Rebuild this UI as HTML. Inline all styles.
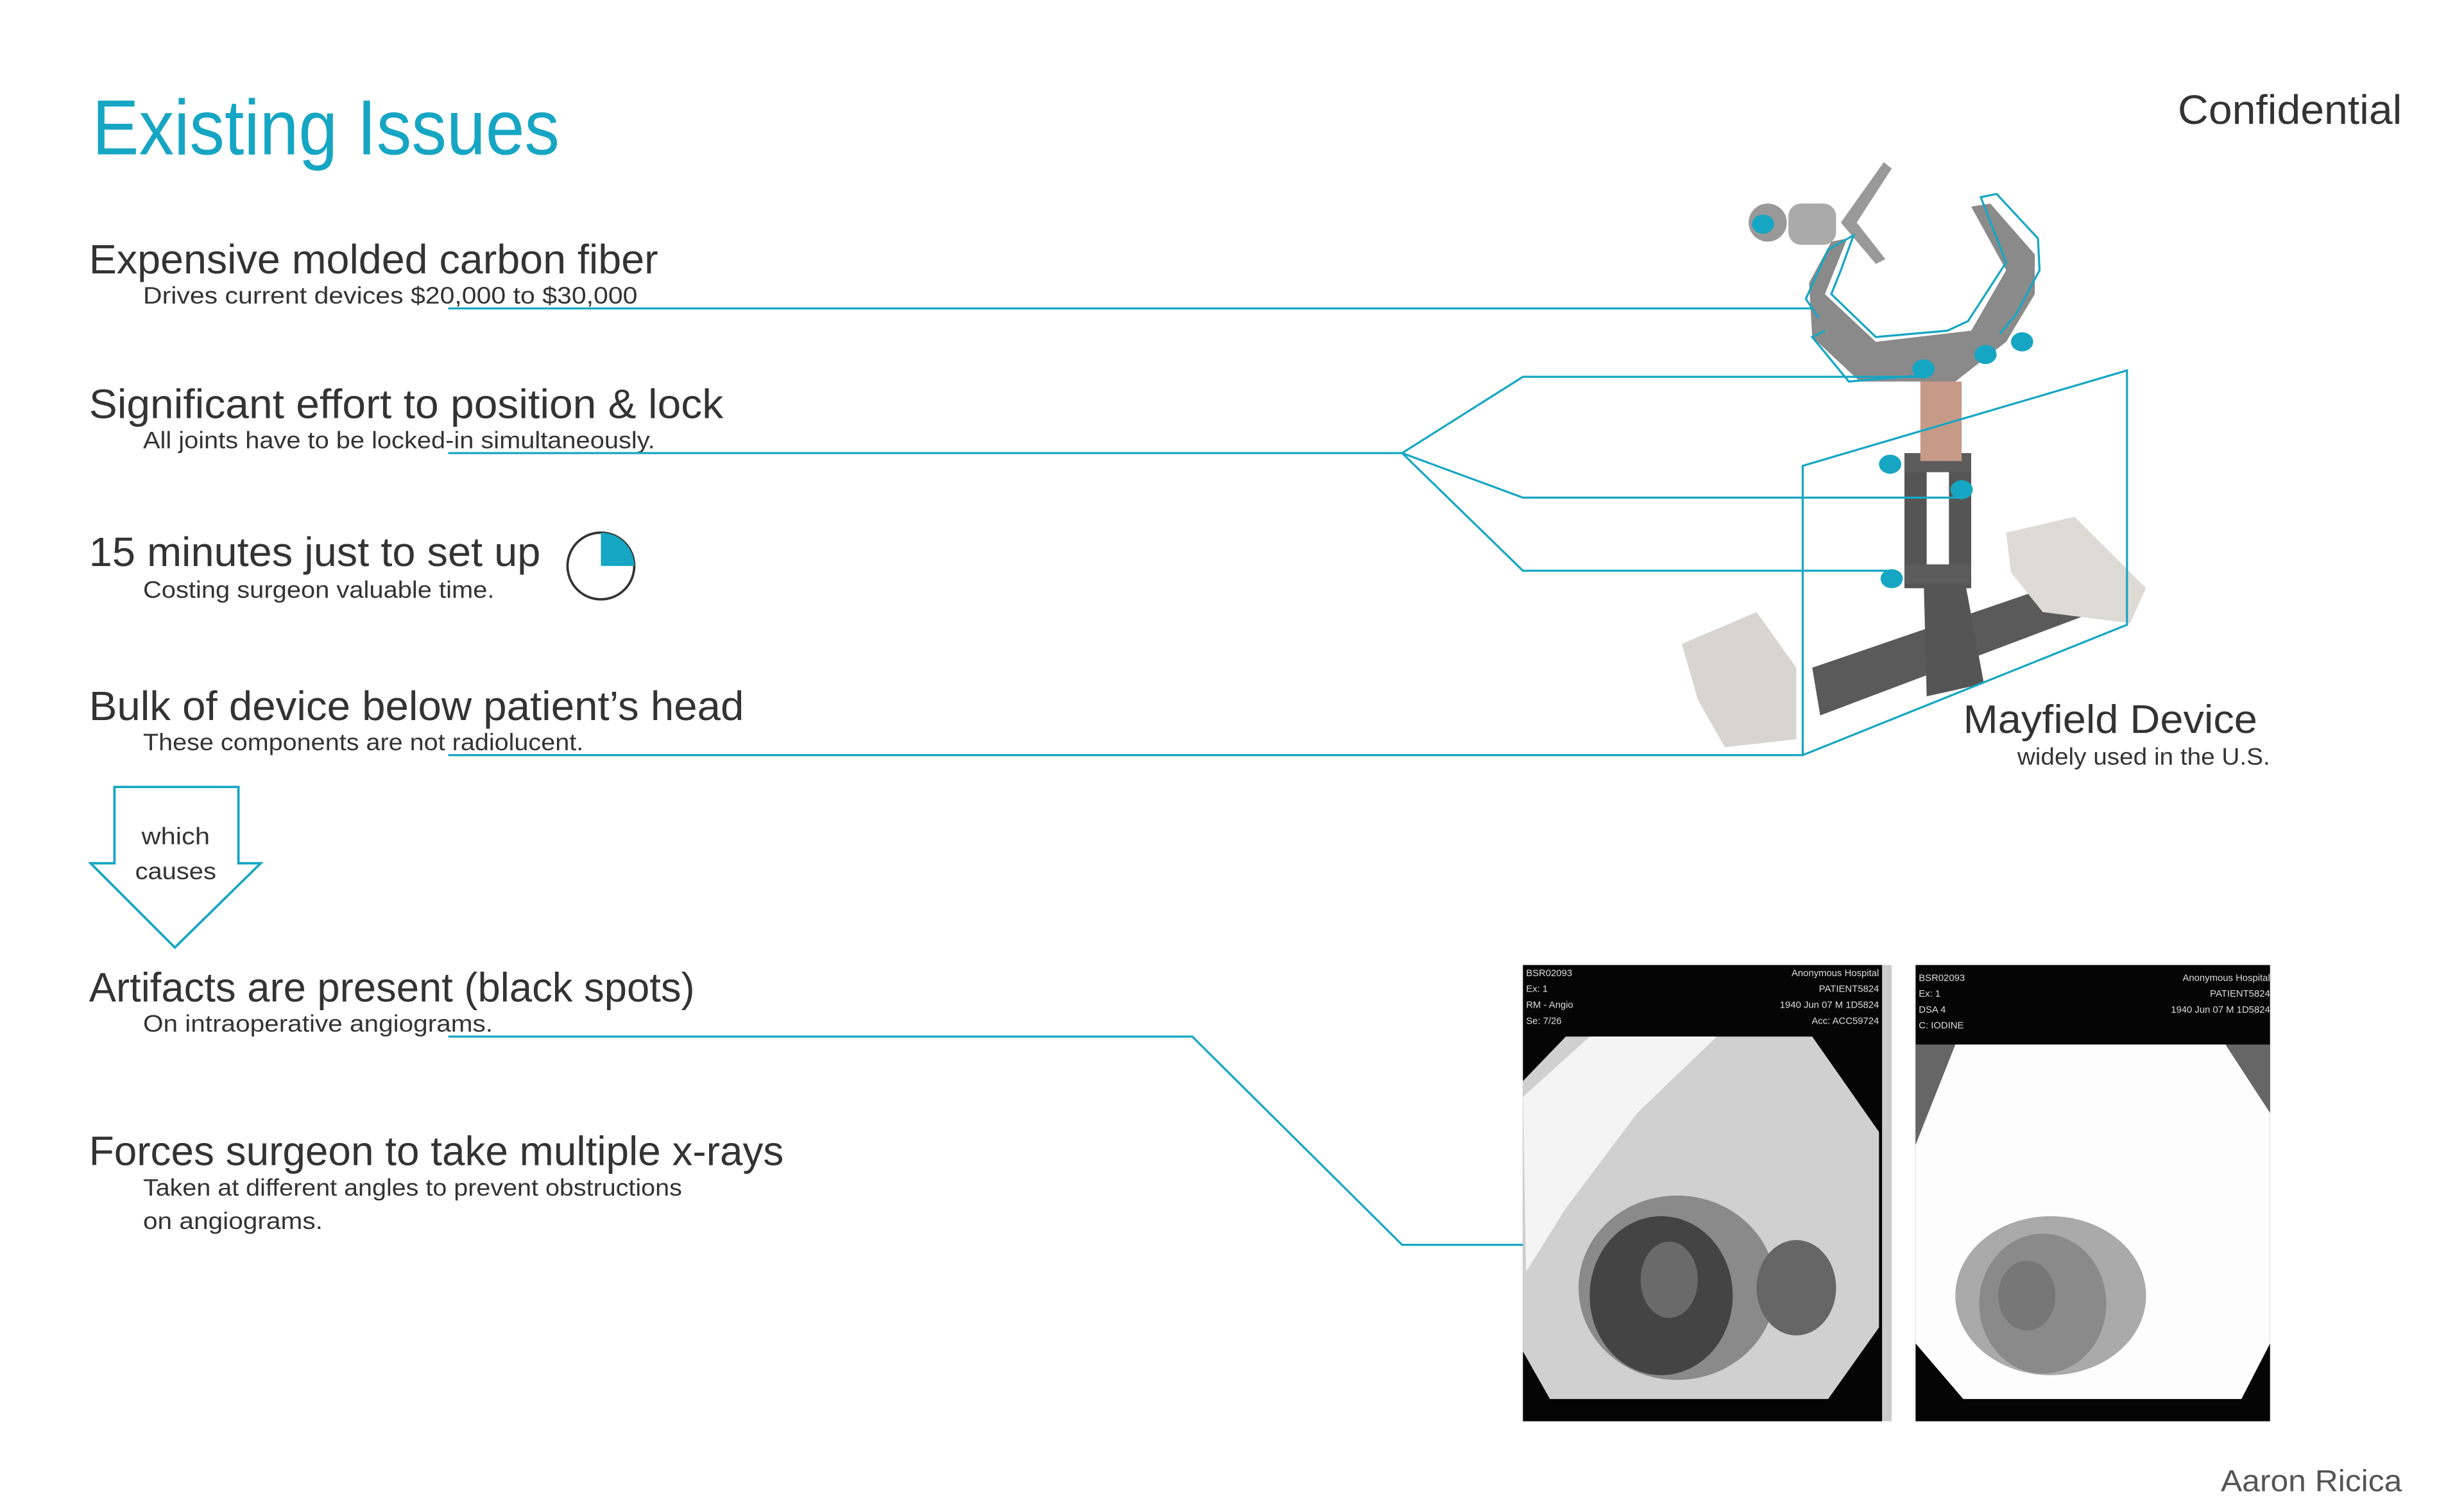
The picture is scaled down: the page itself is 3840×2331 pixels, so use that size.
<!DOCTYPE html>
<html><head><meta charset="utf-8"><style>
html,body{margin:0;padding:0;background:#fff;overflow:hidden}
svg{display:block}
text{font-family:"Liberation Sans",sans-serif;fill:#333}
.h{font-size:26px}
.s{font-size:15px;fill:#333}
.x{font-size:6px;fill:#ddd}
</style></head><body>
<svg width="3840" height="2331" viewBox="0 0 1550 941" preserveAspectRatio="none" xmlns="http://www.w3.org/2000/svg">
<rect width="1550" height="941" fill="#fff"/>
<text x="58" y="97" textLength="294" lengthAdjust="spacingAndGlyphs" style="font-size:49px;fill:#16a6c3">Existing Issues</text>
<text x="1370" y="78" textLength="141" lengthAdjust="spacingAndGlyphs" style="font-size:26px">Confidential</text>

<text class="h" x="56" y="172" textLength="358" lengthAdjust="spacingAndGlyphs">Expensive molded carbon fiber</text>
<text class="s" x="90" y="191" textLength="311" lengthAdjust="spacingAndGlyphs">Drives current devices $20,000 to $30,000</text>
<text class="h" x="56" y="263" textLength="399" lengthAdjust="spacingAndGlyphs">Significant effort to position &amp; lock</text>
<text class="s" x="90" y="282" textLength="322" lengthAdjust="spacingAndGlyphs">All joints have to be locked-in simultaneously.</text>
<text class="h" x="56" y="356" textLength="284" lengthAdjust="spacingAndGlyphs">15 minutes just to set up</text>
<text class="s" x="90" y="376" textLength="221" lengthAdjust="spacingAndGlyphs">Costing surgeon valuable time.</text>
<text class="h" x="56" y="453" textLength="412" lengthAdjust="spacingAndGlyphs">Bulk of device below patient’s head</text>
<text class="s" x="90" y="472" textLength="277" lengthAdjust="spacingAndGlyphs">These components are not radiolucent.</text>
<text class="h" x="56" y="630" textLength="381" lengthAdjust="spacingAndGlyphs">Artifacts are present (black spots)</text>
<text class="s" x="90" y="649" textLength="220" lengthAdjust="spacingAndGlyphs">On intraoperative angiograms.</text>
<text class="h" x="56" y="733" textLength="437" lengthAdjust="spacingAndGlyphs">Forces surgeon to take multiple x-rays</text>
<text class="s" x="90" y="752" textLength="339" lengthAdjust="spacingAndGlyphs">Taken at different angles to prevent obstructions</text>
<text class="s" x="90" y="773" textLength="113" lengthAdjust="spacingAndGlyphs">on angiograms.</text>

<circle cx="378" cy="356" r="21" fill="#fff" stroke="#333" stroke-width="1.5"/>
<path d="M378 356 L378 335 A21 21 0 0 1 399 356 Z" fill="#16a6c3"/>

<polygon points="72,495 150,495 150,543 164,543 110,596 57,543 72,543" fill="#fff" stroke="#16a6c3" stroke-width="1.5"/>
<text class="s" x="89" y="531" textLength="43" lengthAdjust="spacingAndGlyphs">which</text>
<text class="s" x="85" y="553" textLength="51" lengthAdjust="spacingAndGlyphs">causes</text>

<g fill="#6d6d6d">
<path d="M1140 420 L1330 355 L1336 378 L1145 450 Z" fill="#5a5a5a"/>
<path d="M1210 360 L1235 360 L1248 430 L1212 438 Z" fill="#555"/>
<rect x="1198" y="290" width="14" height="80" fill="#555"/>
<rect x="1226" y="290" width="14" height="80" fill="#555"/>
<rect x="1198" y="285" width="42" height="12" fill="#5c5c5c"/>
<rect x="1198" y="355" width="42" height="12" fill="#5c5c5c"/>
<rect x="1208" y="240" width="26" height="50" fill="#c79a88"/>
<path d="M1138 178 L1152 152 L1162 150 L1148 185 L1180 215 L1240 208 L1262 170 L1240 130 L1252 128 L1280 160 L1280 185 L1262 215 L1230 240 L1170 240 L1140 212 Z" fill="#8a8a8a"/>
<circle cx="1112" cy="140" r="12" fill="#999"/>
<rect x="1125" y="128" width="30" height="26" rx="8" fill="#aaa"/>
<path d="M1158 140 L1185 102 L1190 106 L1168 140 L1186 163 L1180 166 Z" fill="#999"/>
<path d="M1058 405 L1105 385 L1130 420 L1130 465 L1085 470 L1068 440 Z" fill="#d8d4cf"/>
<path d="M1262 335 L1305 325 L1350 370 L1340 392 L1285 385 L1265 360 Z" fill="#dedad6"/>
</g>
<g fill="#16a6c3">
<ellipse cx="1109" cy="141" rx="7" ry="6"/>
<ellipse cx="1210" cy="232" rx="7" ry="6"/>
<ellipse cx="1249" cy="223" rx="7" ry="6"/>
<ellipse cx="1272" cy="215" rx="7" ry="6"/>
<ellipse cx="1189" cy="292" rx="7" ry="6"/>
<ellipse cx="1234" cy="308" rx="7" ry="6"/>
<ellipse cx="1190" cy="364" rx="7" ry="6"/>
</g>
<g fill="none" stroke="#16a6c3" stroke-width="1.3">
<path d="M1144 200 L1136 188 L1150 157 L1166 148 L1158 170 L1152 185 L1180 212 L1225 208 L1238 202 L1262 165 L1246 124 L1256 122 L1282 150 L1283 170 L1268 198 L1258 210"/>
<path d="M1148 208 L1140 212 L1163 240 L1210 236"/>
<polyline points="282,194 1140,194"/>
<polyline points="282,285 882,285 958,237 1210,237"/>
<polyline points="882,285 958,313 1234,313"/>
<polyline points="882,285 958,359 1190,359"/>
<polyline points="282,475 1134,475 1134,293 1338,233 1338,393 1134,475"/>
<polyline points="282,652 750,652 882,783 1022,783"/>
</g>

<text x="1235" y="461" textLength="185" lengthAdjust="spacingAndGlyphs" style="font-size:25px">Mayfield Device</text>
<text class="s" x="1269" y="481" textLength="159" lengthAdjust="spacingAndGlyphs">widely used in the U.S.</text>

<rect x="958" y="607" width="226" height="287" fill="#050505"/>
<rect x="1184" y="607" width="6" height="287" fill="#ccc"/>
<polygon points="985,652 1140,652 1182,712 1182,835 1150,880 975,880 958,850 958,680" fill="#d0d0d0"/>
<polygon points="1000,652 1080,652 1030,700 985,760 960,800 958,690" fill="#f4f4f4"/>
<ellipse cx="1055" cy="810" rx="62" ry="58" fill="#8a8a8a"/>
<ellipse cx="1045" cy="815" rx="45" ry="50" fill="#444"/>
<ellipse cx="1050" cy="805" rx="18" ry="24" fill="#6a6a6a"/>
<ellipse cx="1130" cy="810" rx="25" ry="30" fill="#666"/>
<text class="x" x="960" y="614">BSR02093</text><text class="x" x="960" y="624">Ex: 1</text><text class="x" x="960" y="634">RM - Angio</text><text class="x" x="960" y="644">Se: 7/26</text>
<text class="x" x="1182" y="614" text-anchor="end">Anonymous Hospital</text><text class="x" x="1182" y="624" text-anchor="end">PATIENT5824</text><text class="x" x="1182" y="634" text-anchor="end">1940 Jun 07 M 1D5824</text><text class="x" x="1182" y="644" text-anchor="end">Acc: ACC59724</text>
<rect x="1205" y="607" width="223" height="287" fill="#050505"/>
<polygon points="1230,657 1400,657 1428,700 1428,845 1410,880 1235,880 1205,845 1205,720" fill="#fdfdfd"/>
<polygon points="1205,657 1230,657 1205,720" fill="#666"/>
<polygon points="1400,657 1428,657 1428,700" fill="#666"/>
<ellipse cx="1290" cy="815" rx="60" ry="50" fill="#aaa"/>
<ellipse cx="1285" cy="820" rx="40" ry="44" fill="#8a8a8a"/>
<ellipse cx="1275" cy="815" rx="18" ry="22" fill="#777"/>
<text class="x" x="1207" y="617">BSR02093</text><text class="x" x="1207" y="627">Ex: 1</text><text class="x" x="1207" y="637">DSA 4</text><text class="x" x="1207" y="647">C: IODINE</text>
<text class="x" x="1428" y="617" text-anchor="end">Anonymous Hospital</text><text class="x" x="1428" y="627" text-anchor="end">PATIENT5824</text><text class="x" x="1428" y="637" text-anchor="end">1940 Jun 07 M 1D5824</text>

<text x="1397" y="938" textLength="114" lengthAdjust="spacingAndGlyphs" style="font-size:19px;fill:#555">Aaron Ricica</text>
</svg>
</body></html>
